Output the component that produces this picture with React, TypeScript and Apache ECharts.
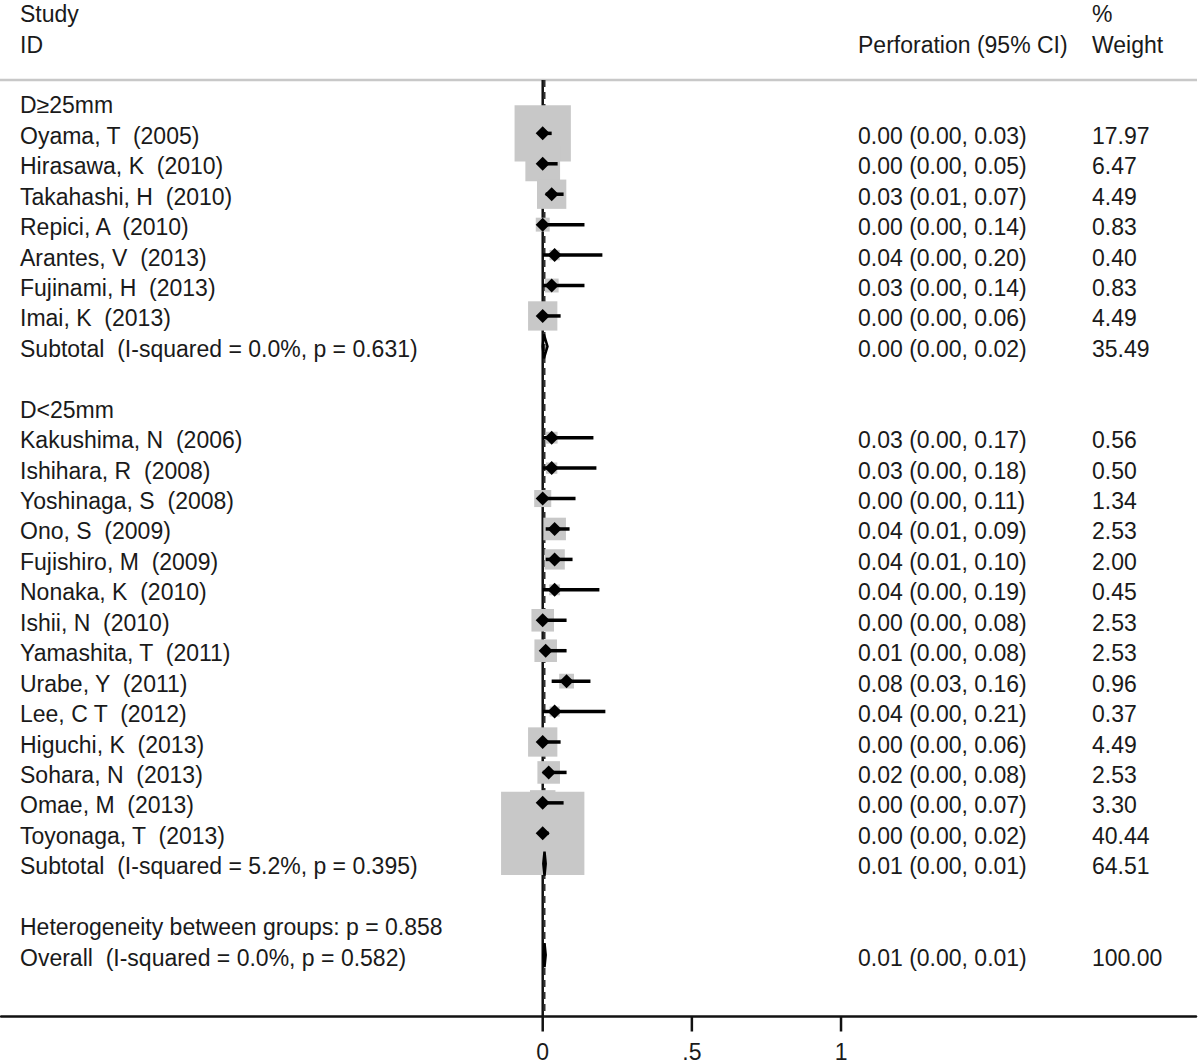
import React, { useEffect, useRef } from "react";
import * as echarts from "echarts";

// ---------------- DATA ----------------
const groupLabels = ["D≥25mm", "D<25mm"];

const group1Studies = [
  "Oyama, T  (2005)",
  "Hirasawa, K  (2010)",
  "Takahashi, H  (2010)",
  "Repici, A  (2010)",
  "Arantes, V  (2013)",
  "Fujinami, H  (2013)",
  "Imai, K  (2013)",
];
const group1Est = [0.0, 0.0, 0.03, 0.0, 0.04, 0.03, 0.0];
const group1Lo = [0.0, 0.0, 0.01, 0.0, 0.0, 0.0, 0.0];
const group1Hi = [0.03, 0.05, 0.07, 0.14, 0.2, 0.14, 0.06];
const group1Weight = [17.97, 6.47, 4.49, 0.83, 0.4, 0.83, 4.49];

const group2Studies = [
  "Kakushima, N  (2006)",
  "Ishihara, R  (2008)",
  "Yoshinaga, S  (2008)",
  "Ono, S  (2009)",
  "Fujishiro, M  (2009)",
  "Nonaka, K  (2010)",
  "Ishii, N  (2010)",
  "Yamashita, T  (2011)",
  "Urabe, Y  (2011)",
  "Lee, C T  (2012)",
  "Higuchi, K  (2013)",
  "Sohara, N  (2013)",
  "Omae, M  (2013)",
  "Toyonaga, T  (2013)",
];
const group2Est = [0.03, 0.03, 0.0, 0.04, 0.04, 0.04, 0.0, 0.01, 0.08, 0.04, 0.0, 0.02, 0.0, 0.0];
const group2Lo = [0.0, 0.0, 0.0, 0.01, 0.01, 0.0, 0.0, 0.0, 0.03, 0.0, 0.0, 0.0, 0.0, 0.0];
const group2Hi = [0.17, 0.18, 0.11, 0.09, 0.1, 0.19, 0.08, 0.08, 0.16, 0.21, 0.06, 0.08, 0.07, 0.02];
const group2Weight = [0.56, 0.5, 1.34, 2.53, 2.0, 0.45, 2.53, 2.53, 0.96, 0.37, 4.49, 2.53, 3.3, 40.44];

const pooledLabels = [
  "Subtotal  (I-squared = 0.0%, p = 0.631)",
  "Subtotal  (I-squared = 5.2%, p = 0.395)",
  "Overall  (I-squared = 0.0%, p = 0.582)",
];
const pooledEst = [0.004, 0.006, 0.006];
const pooledLo = [0.0, 0.002, 0.002];
const pooledHi = [0.016, 0.01, 0.01];
const pooledWeight = [35.49, 64.51, 100.0];

const heterogeneityText = "Heterogeneity between groups: p = 0.858";
const headerLeft = ["Study", "ID"];
const headerEffect = "Perforation (95% CI)";
const headerWeight = ["%", "Weight"];

const xTickValues = [0, 0.5, 1];
const xTickLabels = ["0", ".5", "1"];

// ---------------- LAYOUT ----------------
const W = 1200;
const H = 1064;
const X_MIN = -1.816;
const X_MAX = 2.19;
const Y_MIN = -3.382;
const Y_MAX = 30.02;
const TOP_ROW = -0.753;
const FONT = "Liberation Sans";
const FONT_SIZE = 23;
const TEXT_COLOR = "#1a1a1a";
const BOX_COLOR = "#c8c8c8";
const BOX_SCALE = 12.74;
const BOX_PAD = 2.3;
const COL_X = [20, 858, 1092];
const TEXT_DY = 2.5;

// row indices
const group1Start = 1;
const sub1Row = group1Start + group1Studies.length; // 8
const group2LabelRow = sub1Row + 2; // 10
const group2Start = group2LabelRow + 1; // 11
const sub2Row = group2Start + group2Studies.length; // 25
const hetRow = sub2Row + 2; // 27
const overallRow = hetRow + 1; // 28
const pooledRows = [sub1Row, sub2Row, overallRow];

const fmtCI = (e: number, l: number, h: number) =>
  `${e.toFixed(2)} (${l.toFixed(2)}, ${h.toFixed(2)})`;

type StudyDatum = [number, number, number, number, number];
const studyData: StudyDatum[] = [
  ...group1Studies.map((_, i) => [group1Est[i], group1Start + i, group1Lo[i], group1Hi[i], group1Weight[i]] as StudyDatum),
  ...group2Studies.map((_, i) => [group2Est[i], group2Start + i, group2Lo[i], group2Hi[i], group2Weight[i]] as StudyDatum),
];
const pooledData = pooledLabels.map((_, i) => [pooledEst[i], pooledRows[i], pooledLo[i], pooledHi[i]]);

type TextItem = { row: number; col: number; text: string };
const textItems: TextItem[] = [];
textItems.push({ row: -3, col: 0, text: headerLeft[0] });
textItems.push({ row: -2, col: 0, text: headerLeft[1] });
textItems.push({ row: -2, col: 1, text: headerEffect });
textItems.push({ row: -3, col: 2, text: headerWeight[0] });
textItems.push({ row: -2, col: 2, text: headerWeight[1] });
textItems.push({ row: 0, col: 0, text: groupLabels[0] });
group1Studies.forEach((s, i) => {
  const r = group1Start + i;
  textItems.push({ row: r, col: 0, text: s });
  textItems.push({ row: r, col: 1, text: fmtCI(group1Est[i], group1Lo[i], group1Hi[i]) });
  textItems.push({ row: r, col: 2, text: group1Weight[i].toFixed(2) });
});
textItems.push({ row: group2LabelRow, col: 0, text: groupLabels[1] });
group2Studies.forEach((s, i) => {
  const r = group2Start + i;
  textItems.push({ row: r, col: 0, text: s });
  textItems.push({ row: r, col: 1, text: fmtCI(group2Est[i], group2Lo[i], group2Hi[i]) });
  textItems.push({ row: r, col: 2, text: group2Weight[i].toFixed(2) });
});
textItems.push({ row: hetRow, col: 0, text: heterogeneityText });
pooledLabels.forEach((s, i) => {
  const r = pooledRows[i];
  textItems.push({ row: r, col: 0, text: s });
  textItems.push({ row: r, col: 1, text: fmtCI(pooledEst[i], pooledLo[i], pooledHi[i]) });
  textItems.push({ row: r, col: 2, text: pooledWeight[i].toFixed(2) });
});

const textStyle = (text: string, align: string) => ({
  text,
  fill: TEXT_COLOR,
  fontFamily: FONT,
  fontSize: FONT_SIZE,
  align,
  verticalAlign: "middle",
  textAlign: align,
  textVerticalAlign: "middle",
});

export default function App() {
  const ref = useRef<HTMLDivElement>(null);
  useEffect(() => {
    if (!ref.current) return;
    const chart = echarts.init(ref.current, undefined, { renderer: "svg" });
    const option: any = {
      animation: false,
      backgroundColor: "#ffffff",
      grid: { left: 1, right: 4, top: 0, bottom: 47.5, containLabel: false },
      xAxis: {
        type: "value",
        min: X_MIN,
        max: X_MAX,
        axisLine: { show: true, onZero: false, lineStyle: { color: "#111", width: 2.5 } },
        axisTick: { show: false },
        axisLabel: { show: false },
        splitLine: { show: false },
      },
      yAxis: {
        type: "value",
        inverse: true,
        min: Y_MIN,
        max: Y_MAX,
        show: false,
        splitLine: { show: false },
      },
      series: [
        // reference lines + separator
        {
          type: "custom",
          z: 1,
          data: [[0, TOP_ROW]],
          renderItem: (params: any, api: any) => {
            const cs = params.coordSys;
            const top = api.coord([0, TOP_ROW]);
            const bottom = api.coord([0, Y_MAX]);
            const ov = api.coord([pooledEst[2], TOP_ROW]);
            return {
              type: "group",
              children: [
                {
                  type: "line",
                  shape: { x1: cs.x - 1, y1: top[1], x2: cs.x + cs.width + 1, y2: top[1] },
                  style: { stroke: "#c8c8c8", lineWidth: 2.5 },
                },
                {
                  type: "line",
                  shape: { x1: top[0], y1: top[1], x2: bottom[0], y2: bottom[1] },
                  style: { stroke: "#111", lineWidth: 2.5 },
                },
                {
                  type: "line",
                  shape: { x1: ov[0], y1: top[1], x2: ov[0], y2: bottom[1] },
                  style: { stroke: "#333", lineWidth: 2, lineDash: [7, 5] },
                },
              ],
            };
          },
        },
        // weight boxes
        {
          type: "custom",
          z: 2,
          data: studyData,
          renderItem: (params: any, api: any) => {
            const p = api.coord([api.value(0), api.value(1)]);
            const s = BOX_SCALE * Math.sqrt(api.value(4)) + BOX_PAD;
            return {
              type: "rect",
              shape: { x: p[0] - s / 2, y: p[1] - s / 2, width: s, height: s },
              style: { fill: BOX_COLOR },
            };
          },
        },
        // CI lines + markers
        {
          type: "custom",
          z: 3,
          data: studyData,
          renderItem: (params: any, api: any) => {
            const row = api.value(1);
            const p = api.coord([api.value(0), row]);
            const lo = api.coord([api.value(2), row]);
            const hi = api.coord([api.value(3), row]);
            const d = 7;
            return {
              type: "group",
              children: [
                {
                  type: "line",
                  shape: { x1: lo[0], y1: lo[1], x2: hi[0], y2: hi[1] },
                  style: { stroke: "#000", lineWidth: 3.5 },
                },
                {
                  type: "polygon",
                  shape: {
                    points: [
                      [p[0] - d, p[1]],
                      [p[0], p[1] - d],
                      [p[0] + d, p[1]],
                      [p[0], p[1] + d],
                    ],
                  },
                  style: { fill: "#000" },
                },
              ],
            };
          },
        },
        // pooled diamonds
        {
          type: "custom",
          z: 4,
          data: pooledData,
          renderItem: (params: any, api: any) => {
            const row = api.value(1);
            const p = api.coord([api.value(0), row]);
            const lo = api.coord([api.value(2), row]);
            const hi = api.coord([api.value(3), row]);
            const h = 12;
            return {
              type: "polygon",
              shape: {
                points: [
                  [lo[0], p[1]],
                  [p[0], p[1] - h],
                  [hi[0], p[1]],
                  [p[0], p[1] + h],
                ],
              },
              style: { fill: "none", stroke: "#000", lineWidth: 2.5 },
            };
          },
        },
        // texts
        {
          type: "custom",
          z: 5,
          data: textItems.map((t) => [0, t.row]),
          renderItem: (params: any, api: any) => {
            const t = textItems[params.dataIndex];
            const y = api.coord([0, api.value(1)])[1] + TEXT_DY;
            return {
              type: "text",
              x: COL_X[t.col],
              y,
              style: textStyle(t.text, "left"),
            };
          },
        },
        // x-axis ticks and labels
        {
          type: "custom",
          z: 5,
          data: xTickValues.map((v) => [v, Y_MAX]),
          renderItem: (params: any, api: any) => {
            const p = api.coord([api.value(0), Y_MAX]);
            return {
              type: "group",
              children: [
                {
                  type: "line",
                  shape: { x1: p[0], y1: p[1], x2: p[0], y2: p[1] + 15 },
                  style: { stroke: "#111", lineWidth: 2.5 },
                },
                {
                  type: "text",
                  x: p[0],
                  y: p[1] + 35,
                  style: textStyle(xTickLabels[params.dataIndex], "center"),
                },
              ],
            };
          },
        },
      ],
    };
    chart.setOption(option);
    return () => chart.dispose();
  }, []);
  return (
    <div
      ref={ref}
      style={{ position: "fixed", left: 0, top: 0, width: W, height: H, background: "#fff" }}
    />
  );
}
